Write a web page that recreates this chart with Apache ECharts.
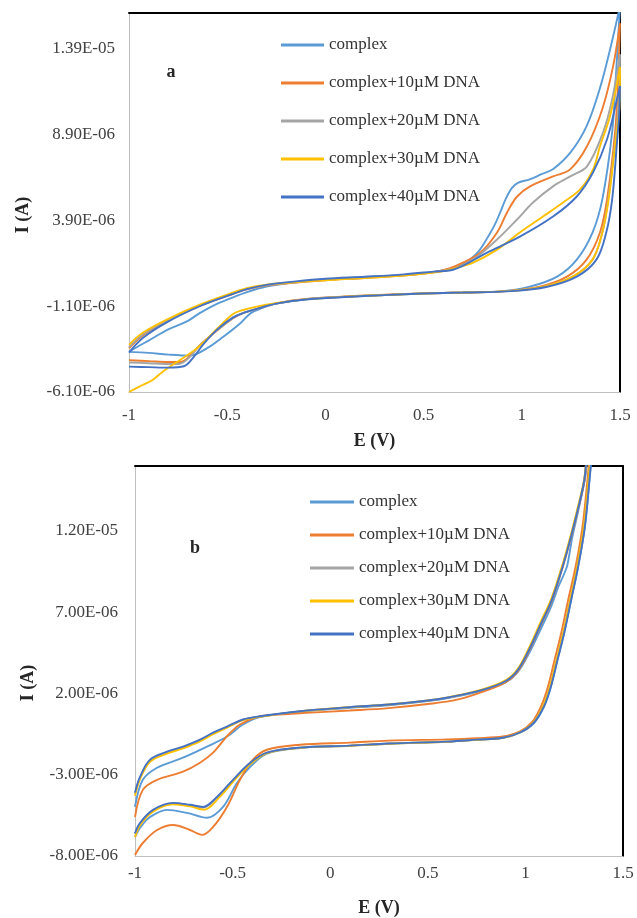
<!DOCTYPE html>
<html><head><meta charset="utf-8">
<script src="https://cdn.jsdelivr.net/npm/echarts/dist/echarts.min.js"></script>
<style>html,body{margin:0;padding:0;background:#fff}#c{width:637px;height:918px}</style>
</head><body><div id="c"></div><script>
// ---- data (E in V, I in microamps; axis labels shown in A) ----
const seriesNames = ['complex','complex+10µM DNA','complex+20µM DNA','complex+30µM DNA','complex+40µM DNA'];
const xTicks = [-1, -0.5, 0, 0.5, 1, 1.5];
const yTicksA = [-6.1, -1.1, 3.9, 8.9, 13.9];   // µA -> labels -6.10E-06 ...
const yTicksB = [-8, -3, 2, 7, 12];             // µA -> labels -8.00E-06 ...

// panel a
const aComplex = [[-1,-3.75],[-0.95,-3.42],[-0.9,-3.1],[-0.8,-2.45],[-0.7,-1.95],[-0.64,-1.5],[-0.55,-0.95],[-0.5,-0.72],[-0.4,-0.28],[-0.3,0.05],[-0.15,0.3],[0,0.45],[0.2,0.58],[0.4,0.72],[0.55,0.9],[0.65,1.12],[0.7,1.35],[0.74,1.65],[0.78,2.1],[0.82,2.8],[0.86,3.6],[0.89,4.37],[0.92,5.2],[0.95,5.8],[0.98,6.1],[1.04,6.3],[1.1,6.6],[1.16,6.9],[1.25,7.9],[1.33,9.4],[1.4,11.7],[1.45,13.9],[1.5,16.4],
  [1.48,12.5],[1.46,9.05],[1.41,5.13],[1.36,3.2],[1.28,1.62],[1.18,0.63],[1.04,0.04],[0.9,-0.22],[0.7,-0.3],[0.5,-0.36],[0.3,-0.45],[0.1,-0.55],[-0.1,-0.7],[-0.25,-0.95],[-0.32,-1.2],[-0.38,-1.5],[-0.43,-2.06],[-0.52,-2.88],[-0.6,-3.53],[-0.69,-3.98],[-0.8,-3.92],[-0.9,-3.82],[-1,-3.76]];
const a10 = [[-1,-3.55],[-0.93,-2.8],[-0.81,-1.98],[-0.64,-1.08],[-0.5,-0.5],[-0.4,-0.12],[-0.3,0.1],[-0.15,0.28],[0,0.42],[0.2,0.55],[0.4,0.7],[0.55,0.88],[0.63,1.1],[0.7,1.44],[0.79,2.03],[0.874,3.2],[0.925,4.37],[0.976,5.3],[1.042,5.89],[1.159,6.47],[1.246,6.88],[1.332,8.23],[1.41,10.4],[1.465,12.9],[1.5,15.4],
  [1.49,12.0],[1.475,9.05],[1.434,5.13],[1.398,3.2],[1.33,1.62],[1.23,0.63],[1.09,0.04],[0.92,-0.22],[0.7,-0.3],[0.5,-0.35],[0.3,-0.43],[0.1,-0.53],[-0.1,-0.68],[-0.25,-0.93],[-0.35,-1.25],[-0.42,-1.5],[-0.47,-1.8],[-0.55,-2.5],[-0.64,-3.38],[-0.69,-4.0],[-0.74,-4.35],[-0.8,-4.35],[-0.9,-4.3],[-1,-4.25]];
const a20 = [[-1,-3.5],[-0.93,-2.75],[-0.81,-1.95],[-0.64,-1.05],[-0.5,-0.48],[-0.4,-0.1],[-0.3,0.12],[-0.15,0.3],[0,0.44],[0.2,0.56],[0.4,0.71],[0.55,0.88],[0.63,1.05],[0.685,1.21],[0.772,1.79],[0.874,2.79],[0.976,3.96],[1.057,4.95],[1.159,5.89],[1.246,6.47],[1.332,7.06],[1.414,9.05],[1.46,10.98],[1.5,13.6],
  [1.495,11.0],[1.48,9.0],[1.44,5.13],[1.41,3.2],[1.36,1.62],[1.26,0.63],[1.11,0.04],[0.93,-0.22],[0.7,-0.3],[0.5,-0.35],[0.3,-0.44],[0.1,-0.54],[-0.1,-0.69],[-0.25,-0.94],[-0.35,-1.25],[-0.42,-1.5],[-0.47,-1.78],[-0.55,-2.48],[-0.64,-3.38],[-0.69,-4.05],[-0.74,-4.45],[-0.8,-4.47],[-0.9,-4.42],[-1,-4.38]];
const a30 = [[-1,-3.35],[-0.93,-2.65],[-0.81,-1.89],[-0.64,-1.01],[-0.5,-0.42],[-0.4,-0.05],[-0.3,0.16],[-0.13,0.33],[0,0.42],[0.2,0.54],[0.4,0.69],[0.55,0.86],[0.62,1.0],[0.67,1.15],[0.752,1.44],[0.874,2.2],[0.99,3.2],[1.108,4.13],[1.21,4.95],[1.297,5.71],[1.363,6.88],[1.398,8.23],[1.449,9.98],[1.5,12.85],
  [1.497,10.5],[1.482,9.0],[1.442,5.13],[1.41,3.2],[1.36,1.62],[1.26,0.63],[1.11,0.04],[0.93,-0.22],[0.7,-0.3],[0.5,-0.36],[0.3,-0.45],[0.1,-0.55],[-0.1,-0.7],[-0.25,-0.92],[-0.35,-1.12],[-0.42,-1.32],[-0.47,-1.55],[-0.55,-2.4],[-0.62,-3.2],[-0.67,-3.7],[-0.74,-4.23],[-0.83,-4.93],[-0.88,-5.4],[-0.95,-5.8],[-1,-6.1]];
const a40 = [[-1,-3.8],[-0.93,-2.95],[-0.81,-2.05],[-0.64,-1.1],[-0.5,-0.5],[-0.4,-0.1],[-0.3,0.15],[-0.15,0.35],[0,0.5],[0.2,0.62],[0.4,0.76],[0.55,0.92],[0.65,1.03],[0.823,2.03],[0.99,2.96],[1.159,4.13],[1.28,5.3],[1.363,6.71],[1.434,8.64],[1.485,10.98],[1.5,11.74],
  [1.495,10.0],[1.485,8.5],[1.46,5.13],[1.43,3.2],[1.38,1.62],[1.28,0.63],[1.13,0.04],[0.95,-0.22],[0.7,-0.3],[0.5,-0.36],[0.3,-0.45],[0.1,-0.56],[-0.1,-0.71],[-0.25,-0.95],[-0.35,-1.25],[-0.42,-1.5],[-0.47,-1.75],[-0.55,-2.45],[-0.62,-3.3],[-0.67,-4.05],[-0.72,-4.6],[-0.8,-4.68],[-0.9,-4.65],[-1,-4.62]];

// panel b
const bComplex = [[-1,-4.98],[-0.96,-3.31],[-0.887,-2.57],[-0.754,-1.95],[-0.631,-1.27],[-0.529,-0.65],[-0.447,0.09],[-0.36,0.55],[-0.155,0.88],[0.1,1.12],[0.3,1.28],[0.5,1.53],[0.61,1.73],[0.78,2.18],[0.9,2.7],[0.96,3.3],[1.02,4.5],[1.08,6.0],[1.13,7.3],[1.17,8.6],[1.2,9.4],[1.215,9.9],[1.24,11.6],[1.27,13.2],[1.305,15.2],[1.335,17.5],
  [1.35,17.5],[1.335,16.0],[1.305,12.3],[1.27,9.8],[1.235,7.8],[1.2,5.8],[1.165,4.1],[1.13,2.4],[1.095,1.2],[1.045,0.2],[0.975,-0.4],[0.885,-0.73],[0.75,-0.85],[0.6,-0.97],[0.3,-1.09],[0.1,-1.22],[-0.155,-1.35],[-0.324,-1.7],[-0.41,-2.51],[-0.477,-3.49],[-0.549,-4.98],[-0.631,-5.65],[-0.734,-5.35],[-0.836,-5.16],[-0.923,-5.6],[-0.97,-6.2],[-1,-6.83]];
const b10 = [[-1,-5.6],[-0.96,-3.93],[-0.887,-3.31],[-0.754,-2.81],[-0.667,-2.26],[-0.6,-1.64],[-0.53,-0.65],[-0.462,0.09],[-0.375,0.55],[-0.293,0.68],[-0.1,0.82],[0.1,0.95],[0.3,1.1],[0.5,1.35],[0.65,1.62],[0.78,2.1],[0.9,2.7],[0.96,3.35],[1.02,4.65],[1.08,6.25],[1.13,7.55],[1.17,8.95],[1.21,10.55],[1.26,12.85],[1.3,14.95],[1.33,17.5],
  [1.34,17.5],[1.325,16.0],[1.293,12.3],[1.257,9.8],[1.22,7.8],[1.185,5.8],[1.15,4.1],[1.115,2.4],[1.08,1.2],[1.035,0.25],[0.97,-0.35],[0.885,-0.65],[0.75,-0.75],[0.6,-0.82],[0.3,-0.9],[0.1,-1.02],[-0.155,-1.15],[-0.324,-1.46],[-0.396,-2.07],[-0.462,-3.31],[-0.529,-4.98],[-0.6,-6.21],[-0.657,-6.7],[-0.718,-6.4],[-0.805,-6.09],[-0.887,-6.4],[-0.96,-7.2],[-1,-7.94]];
const b20 = [[-1,-4.2],[-0.974,-3.2],[-0.923,-2.15],[-0.836,-1.65],[-0.754,-1.33],[-0.667,-0.9],[-0.6,-0.45],[-0.529,-0.07],[-0.447,0.38],[-0.36,0.58],[-0.155,0.9],[0.1,1.15],[0.3,1.31],[0.5,1.56],[0.61,1.76],[0.78,2.22],[0.9,2.78],[0.96,3.45],[1.02,4.75],[1.08,6.35],[1.13,7.65],[1.17,9.05],[1.21,10.65],[1.26,12.95],[1.3,15.05],[1.33,17.5],
  [1.345,17.5],[1.33,16.0],[1.3,12.3],[1.265,9.8],[1.23,7.8],[1.195,5.8],[1.16,4.1],[1.125,2.4],[1.09,1.2],[1.04,0.2],[0.97,-0.4],[0.885,-0.72],[0.75,-0.84],[0.6,-0.96],[0.3,-1.08],[0.1,-1.21],[-0.155,-1.33],[-0.324,-1.64],[-0.41,-2.28],[-0.495,-3.3],[-0.578,-4.38],[-0.65,-5.02],[-0.718,-4.88],[-0.805,-4.76],[-0.908,-5.2],[-0.974,-6.0],[-1,-6.65]];
const b30 = [[-1,-4.3],[-0.974,-3.25],[-0.923,-2.2],[-0.836,-1.7],[-0.754,-1.38],[-0.667,-0.95],[-0.6,-0.5],[-0.529,-0.1],[-0.447,0.36],[-0.36,0.57],[-0.155,0.9],[0.1,1.16],[0.3,1.32],[0.5,1.57],[0.61,1.78],[0.78,2.25],[0.9,2.82],[0.96,3.5],[1.02,4.85],[1.08,6.45],[1.13,7.75],[1.17,9.15],[1.21,10.75],[1.26,13.05],[1.3,15.1],[1.33,17.5],
  [1.345,17.5],[1.33,16.0],[1.3,12.3],[1.265,9.8],[1.23,7.8],[1.195,5.8],[1.16,4.1],[1.125,2.4],[1.09,1.2],[1.04,0.2],[0.97,-0.4],[0.885,-0.73],[0.75,-0.85],[0.6,-0.97],[0.3,-1.09],[0.1,-1.22],[-0.155,-1.34],[-0.324,-1.66],[-0.405,-2.3],[-0.485,-3.25],[-0.565,-4.35],[-0.645,-5.15],[-0.718,-4.95],[-0.805,-4.82],[-0.908,-5.27],[-0.974,-6.1],[-1,-6.85]];
const b40 = [[-1,-4.1],[-0.974,-3.12],[-0.923,-2.07],[-0.836,-1.58],[-0.754,-1.27],[-0.667,-0.84],[-0.6,-0.41],[-0.529,-0.04],[-0.447,0.4],[-0.36,0.6],[-0.155,0.91],[0.1,1.16],[0.3,1.32],[0.5,1.57],[0.61,1.77],[0.78,2.22],[0.9,2.77],[0.96,3.42],[1.02,4.72],[1.08,6.3],[1.13,7.6],[1.17,9.0],[1.21,10.6],[1.26,12.9],[1.3,15.0],[1.33,17.5],
  [1.35,17.5],[1.335,16.0],[1.305,12.3],[1.27,9.8],[1.235,7.8],[1.2,5.8],[1.165,4.1],[1.13,2.4],[1.095,1.2],[1.043,0.2],[0.972,-0.4],[0.885,-0.72],[0.75,-0.84],[0.6,-0.96],[0.3,-1.08],[0.1,-1.21],[-0.155,-1.33],[-0.324,-1.64],[-0.41,-2.26],[-0.498,-3.31],[-0.58,-4.36],[-0.652,-4.98],[-0.718,-4.85],[-0.805,-4.73],[-0.908,-5.16],[-0.974,-5.96],[-1,-6.6]];

const colors = ['#5B9BD5','#ED7D31','#A5A5A5','#FFC000','#4472C4'];
const panelA = [aComplex, a10, a20, a30, a40];
const panelB = [bComplex, b10, b20, b30, b40];

// ---- chart ----
const FONT = '"Liberation Serif","Times New Roman",serif';
function fmtA(ticks){
  return function(v){
    if(!ticks.some(t => Math.abs(t - v) < 1e-6)) return '';
    const s = (v * 1e-6).toExponential(2);
    const parts = s.split('e');
    const n = parseInt(parts[1], 10);
    return parts[0] + 'E' + (n < 0 ? '-' : '+') + String(Math.abs(n)).padStart(2, '0');
  };
}
function mainX(grid, margin, gap){
  return {gridIndex:grid, type:'value', min:xTicks[0], max:xTicks[xTicks.length-1], interval:xTicks[1]-xTicks[0], position:'bottom',
    axisLine:{show:true, onZero:false, lineStyle:{color:'#bfbfbf', width:1}}, axisTick:{show:false}, splitLine:{show:false},
    axisLabel:{margin:margin, fontFamily:FONT, fontSize:17, color:'#404040'},
    name:'E (V)', nameLocation:'middle', nameGap:gap, nameTextStyle:{fontFamily:FONT, fontSize:18, fontWeight:'bold', color:'#262626'}};
}
function borderX(grid){
  return {gridIndex:grid, type:'value', min:xTicks[0], max:xTicks[xTicks.length-1], position:'top',
    axisLine:{show:true, onZero:false, lineStyle:{color:'#000', width:2}}, axisTick:{show:false}, axisLabel:{show:false}, splitLine:{show:false}};
}
function mainY(grid, ticks, max, margin){
  return {gridIndex:grid, type:'value', min:ticks[0], max:max, interval:ticks[1]-ticks[0], position:'left',
    axisLine:{show:true, onZero:false, lineStyle:{color:'#bfbfbf', width:1}}, axisTick:{show:false}, splitLine:{show:false},
    axisLabel:{margin:margin, fontFamily:FONT, fontSize:17, color:'#404040', formatter:fmtA(ticks), showMaxLabel:false}};
}
function borderY(grid, ticks, max){
  return {gridIndex:grid, type:'value', min:ticks[0], max:max, position:'right',
    axisLine:{show:true, onZero:false, lineStyle:{color:'#000', width:2}}, axisTick:{show:false}, axisLabel:{show:false}, splitLine:{show:false}};
}
const series = [];
panelA.forEach((d,i) => series.push({name:seriesNames[i], type:'line', xAxisIndex:0, yAxisIndex:0, data:d, symbol:'none', smooth:0.35,
  lineStyle:{color:colors[i], width:1.9}, itemStyle:{color:colors[i]}, clip:true}));
panelB.forEach((d,i) => series.push({name:seriesNames[i], type:'line', xAxisIndex:2, yAxisIndex:2, data:d, symbol:'none', smooth:0.35,
  lineStyle:{color:colors[i], width:1.9}, itemStyle:{color:colors[i]}, clip:true}));

const legendText = {fontFamily:FONT, fontSize:17, color:'#333', lineHeight:20};
const option = {
  animation:false,
  backgroundColor:'#fff',
  grid:[{left:129, top:13, width:491, height:379}, {left:135, top:466, width:488, height:390}],
  xAxis:[mainX(0, 15, 40), borderX(0), mainX(1, 9, 43), borderX(1)],
  yAxis:[mainY(0, yTicksA, 16, 14), borderY(0, yTicksA, 16), mainY(1, yTicksB, 16, 17), borderY(1, yTicksB, 16)],
  legend:[
    {data:seriesNames, orient:'vertical', left:276, top:30, itemWidth:43, itemHeight:3, icon:'rect', itemGap:18, textStyle:legendText, selectedMode:false},
    {data:seriesNames, orient:'vertical', left:305, top:487, itemWidth:44, itemHeight:3, icon:'rect', itemGap:13, textStyle:legendText, selectedMode:false}
  ],
  graphic:[
    {type:'text', x:23, y:215, rotation:Math.PI/2, style:{text:'I (A)', fontFamily:FONT, fontSize:18, fontWeight:'bold', fill:'#262626', align:'center', verticalAlign:'middle'}},
    {type:'text', x:28, y:683, rotation:Math.PI/2, style:{text:'I (A)', fontFamily:FONT, fontSize:18, fontWeight:'bold', fill:'#262626', align:'center', verticalAlign:'middle'}},
    {type:'text', x:171, y:72, style:{text:'a', fontFamily:FONT, fontSize:18, fontWeight:'bold', fill:'#262626', align:'center', verticalAlign:'middle'}},
    {type:'text', x:195, y:548, style:{text:'b', fontFamily:FONT, fontSize:18, fontWeight:'bold', fill:'#262626', align:'center', verticalAlign:'middle'}}
  ],
  series:series
};
const chart = echarts.init(document.getElementById('c'), null, {renderer:'canvas'});
chart.setOption(option);
</script></body></html>
